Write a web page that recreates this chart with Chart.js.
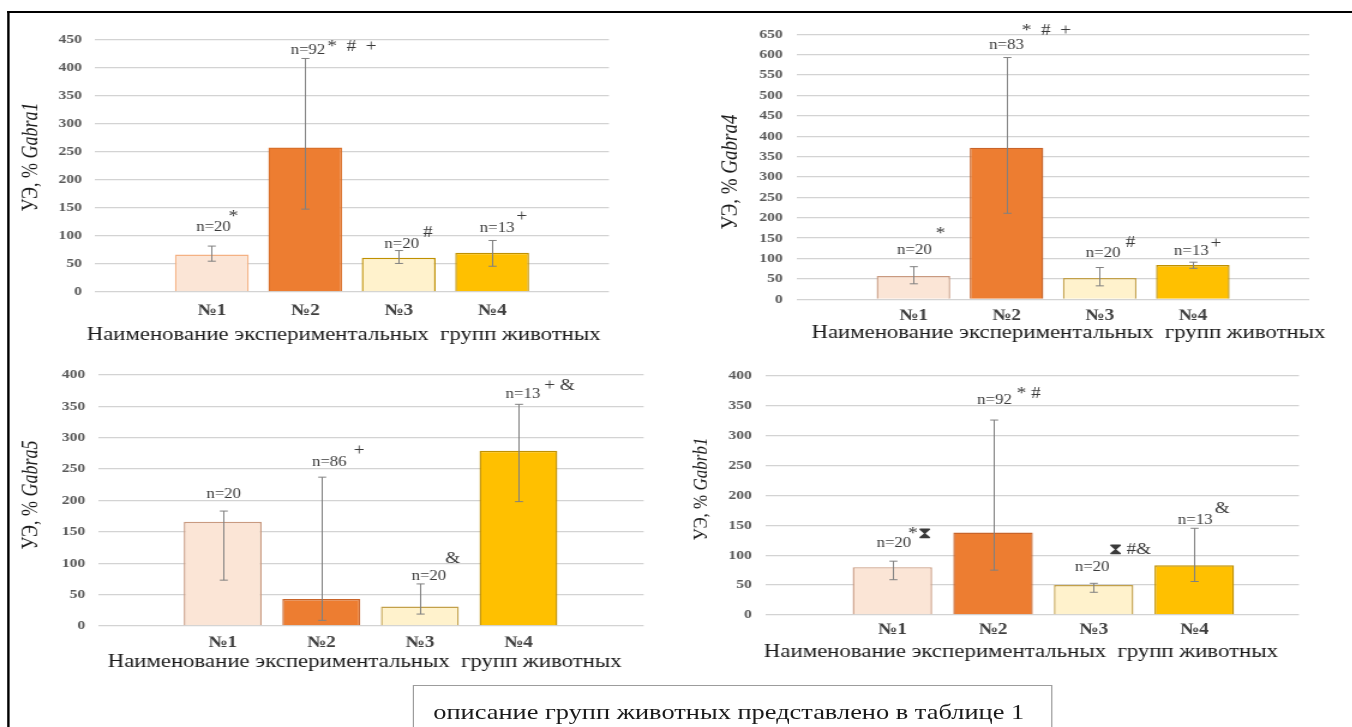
<!DOCTYPE html>
<html>
<head>
<meta charset="utf-8">
<script src="https://cdn.jsdelivr.net/npm/chart.js@4.4.1/dist/chart.umd.min.js"></script>
<style>
  html, body { margin: 0; padding: 0; background: #fff; overflow: hidden; width: 1352px; height: 727px; }
  /* the figure is laid out narrow and widened horizontally as one piece */
  #fig { position: absolute; left: 0; top: 0; width: 1127px; height: 727px; transform: scaleX(1.2); transform-origin: 0 0; }
  #fig canvas { position: absolute; }
  #frame { position: absolute; left: 5.8px; top: 11px; width: 1300px; height: 800px;
           border-top: 2px solid #000; border-left: 2px solid #000; }
  #note { position: absolute; left: 344px; top: 685px; width: 533px; height: 60px; box-sizing: border-box;
          border: 1.4px solid #9c9c9c; padding: 14px 0 0 16px; white-space: nowrap;
          font: 22px/24px "Liberation Serif", "Times New Roman", serif; color: #1a1a1a; }
</style>
</head>
<body>
<div id="fig">
  <div id="frame"></div>
  <canvas id="c1"></canvas>
  <canvas id="c2"></canvas>
  <canvas id="c3"></canvas>
  <canvas id="c4"></canvas>
  <div id="note">описание групп животных представлено в таблице 1</div>
</div>
<script>
// ---- data ----
const groups = ['№1', '№2', '№3', '№4'];

// Gabra1
const gabra1Mean = [67, 258, 61, 70];
const gabra1Low  = [55, 148, 51, 46];
const gabra1High = [82, 417, 74, 92];
const gabra1N    = [20, 92, 20, 13];
const gabra1Sig  = ['*', '*  #  +', '#', '+'];

// Gabra4
const gabra4Mean = [57, 372, 52, 84];
const gabra4Low  = [38, 211, 33, 76];
const gabra4High = [80, 593, 78, 91];
const gabra4N    = [20, 83, 20, 13];
const gabra4Sig  = ['*', '*  #  +', '#', '+'];

// Gabra5
const gabra5Mean = [166, 43, 31, 279];
const gabra5Low  = [73, 9, 19, 198];
const gabra5High = [183, 237, 67, 353];
const gabra5N    = [20, 86, 20, 13];
const gabra5Sig  = ['', '+', '&', '+ &'];

// Gabrb1
const gabrb1Mean = [80, 138, 50, 83];
const gabrb1Low  = [59, 75, 38, 56];
const gabrb1High = [90, 326, 53, 145];
const gabrb1N    = [20, 92, 20, 13];
const gabrb1Sig  = ['*⧗', '* #', '⧗ #&', '&'];

const yTop = { gabra1: 450, gabra4: 650, gabra5: 400, gabrb1: 400 };
const yStep = 50;

// ---- styling ----
const S = 1.2;                       // horizontal widening of the whole figure
const FONT = '"Liberation Serif", "Times New Roman", serif';
const fills = ['#FBE5D6', '#ED7D31', '#FFF2CC', '#FFC000'];
const edgesA = ['#F4B183', '#D9702A', '#BF9000', '#BF9000'];
const edgesB = ['#C99A80', '#C8642A', '#C2A04A', '#BF9000'];
const xTitleText = 'Наименование экспериментальных  групп животных';

Chart.defaults.font.family = FONT;

function panel(id, d, f) {
  const cv = document.getElementById(id);
  const w = Math.round(f.W / S), h = f.H;
  cv.width = w; cv.height = h;
  cv.style.width = w + 'px'; cv.style.height = h + 'px';
  cv.style.left = (f.L / S) + 'px'; cv.style.top = f.T + 'px';
  const yAxisW = (f.left - f.L) / S;
  const xAxisH = f.T + f.H - f.bottom;
  const padRight = w - (f.right - f.L) / S;

  const overlay = {
    id: 'overlay',
    afterDatasetsDraw(chart) {
      const ctx = chart.ctx, xs = chart.scales.x, ys = chart.scales.y;
      const bars = chart.getDatasetMeta(0).data;
      ctx.save();
      // error bars
      ctx.strokeStyle = '#808080';
      ctx.lineWidth = 1;
      const cap = 4 / S;
      d.mean.forEach((m, i) => {
        const x = Math.round(bars[i].x) + 0.5;
        const y1 = ys.getPixelForValue(d.high[i]);
        const y2 = ys.getPixelForValue(d.low[i]);
        ctx.beginPath();
        ctx.moveTo(x, y1); ctx.lineTo(x, y2);
        ctx.moveTo(x - cap, y1); ctx.lineTo(x + cap, y1);
        ctx.moveTo(x - cap, y2); ctx.lineTo(x + cap, y2);
        ctx.stroke();
      });
      // group sizes and significance marks
      ctx.fillStyle = '#3a3a3a';
      ctx.textBaseline = 'middle';
      d.n.forEach((n, i) => {
        const lay = f.labels[i];
        const cx = xs.getPixelForValue(i + 1) + lay.dx / S;
        const cy = ys.getPixelForValue(lay.y);
        const t = 'n=' + n;
        ctx.font = '14px ' + FONT;
        ctx.textAlign = 'center';
        ctx.fillText(t, cx, cy);
        const right = cx + ctx.measureText(t).width / 2;
        if (d.sig[i]) {
          ctx.font = '16px ' + FONT;
          ctx.textAlign = 'left';
          ctx.fillText(d.sig[i], right + lay.gap / S, cy - lay.raise);
        }
      });
      // axis titles
      ctx.fillStyle = '#1a1a1a';
      ctx.font = '19px ' + FONT;
      ctx.textAlign = 'center';
      ctx.fillText(xTitleText, (f.xTitle.x - f.L) / S, f.xTitle.y - f.T);

      ctx.translate((f.yTitle.x - f.L) / S, f.yTitle.y - f.T);
      ctx.rotate(-Math.PI / 2);
      const a = 'УЭ, % ';
      const fs = f.yTitle.size;
      ctx.font = fs + 'px ' + FONT;
      const wa = ctx.measureText(a).width;
      ctx.font = 'italic ' + fs + 'px ' + FONT;
      const wb = ctx.measureText(d.gene).width;
      const x0 = -(wa + wb) / 2;
      ctx.textAlign = 'left';
      ctx.font = fs + 'px ' + FONT;
      ctx.fillText(a, x0, 0);
      ctx.font = 'italic ' + fs + 'px ' + FONT;
      ctx.fillText(d.gene, x0 + wa, 0);
      ctx.restore();
    }
  };

  return new Chart(cv, {
    type: 'bar',
    data: {
      datasets: [{
        data: d.mean.map((v, i) => ({ x: i + 1, y: v })),
        backgroundColor: fills,
        borderColor: d.edges,
        borderWidth: 1.4,
        categoryPercentage: 1,
        barPercentage: 0.79
      }]
    },
    options: {
      responsive: false,
      animation: false,
      devicePixelRatio: 1,
      layout: { padding: { top: f.top - f.T, right: padRight, bottom: 0, left: 0 } },
      plugins: { legend: { display: false }, tooltip: { enabled: false } },
      scales: {
        x: {
          type: 'linear',
          bounds: 'data',
          offset: false,
          min: f.xMin, max: f.xMax,
          afterBuildTicks: s => { s.ticks = groups.map((g, i) => ({ value: i + 1 })); },
          afterFit: s => { s.height = xAxisH; },
          grid: { display: false, offset: false, drawTicks: false },
          border: { display: false },
          ticks: {
            callback: v => groups[v - 1] || '',
            autoSkip: false, maxRotation: 0,
            padding: f.xPad,
            color: '#3f3f3f',
            font: { size: 16, weight: 'bold' }
          }
        },
        y: {
          min: 0, max: d.max,
          afterFit: s => { s.width = yAxisW; },
          grid: { color: '#d3d3d3', lineWidth: 1.3, drawTicks: false },
          border: { display: false },
          ticks: {
            stepSize: yStep,
            padding: f.yPad,
            color: '#595959',
            font: { size: 13, weight: 'bold' }
          }
        }
      }
    },
    plugins: [overlay]
  });
}

panel('c1',
  { mean: gabra1Mean, low: gabra1Low, high: gabra1High, n: gabra1N, sig: gabra1Sig, gene: 'Gabra1', max: yTop.gabra1, edges: edgesA },
  { L: 10, T: 14, W: 650, H: 340, left: 95.4, right: 609.3, top: 40, bottom: 292,
    xMin: -0.25, xMax: 5.25, xPad: 8.9, yPad: 11,
    yTitle: { x: 32, y: 157, size: 18 }, xTitle: { x: 344, y: 335 },
    labels: [ { dx: 1.6, y: 116, gap: -2, raise: 10 }, { dx: 2.7, y: 432, gap: 2, raise: 3 },
              { dx: 3, y: 85.7, gap: 4, raise: 11 }, { dx: 5, y: 114, gap: 2, raise: 11 } ] });

panel('c2',
  { mean: gabra4Mean, low: gabra4Low, high: gabra4High, n: gabra4N, sig: gabra4Sig, gene: 'Gabra4', max: yTop.gabra4, edges: edgesB },
  { L: 680, T: 14, W: 670, H: 340, left: 796.6, right: 1308.8, top: 34.3, bottom: 299.3,
    xMin: -0.25, xMax: 5.25, xPad: 6.6, yPad: 12,
    yTitle: { x: 730, y: 172, size: 19 }, xTitle: { x: 1068, y: 333 },
    labels: [ { dx: 1, y: 119, gap: 4, raise: 17 }, { dx: 0, y: 624, gap: -2, raise: 14 },
              { dx: 3.5, y: 113.6, gap: 5, raise: 10 }, { dx: -1.5, y: 118.5, gap: 2, raise: 7 } ] });

panel('c3',
  { mean: gabra5Mean, low: gabra5Low, high: gabra5High, n: gabra5N, sig: gabra5Sig, gene: 'Gabra5', max: yTop.gabra5, edges: edgesB },
  { L: 10, T: 356, W: 660, H: 324, left: 98.9, right: 644, top: 370, bottom: 626,
    xMin: -0.26, xMax: 5.27, xPad: 6.9, yPad: 11,
    yTitle: { x: 32.5, y: 495, size: 18 }, xTitle: { x: 365, y: 662 },
    labels: [ { dx: 1, y: 209.8, gap: 0, raise: 0 }, { dx: 8, y: 260.5, gap: 7, raise: 12 },
              { dx: 9, y: 79.7, gap: -1, raise: 17 }, { dx: 4.5, y: 368.75, gap: 4, raise: 9 } ] });

panel('c4',
  { mean: gabrb1Mean, low: gabrb1Low, high: gabrb1High, n: gabrb1N, sig: gabrb1Sig, gene: 'Gabrb1', max: yTop.gabrb1, edges: edgesB },
  { L: 680, T: 356, W: 670, H: 324, left: 765.7, right: 1298.5, top: 374, bottom: 615,
    xMin: -0.255, xMax: 5.04, xPad: 4.9, yPad: 12,
    yTitle: { x: 701.4, y: 489, size: 17 }, xTitle: { x: 1020.5, y: 652 },
    labels: [ { dx: 1.5, y: 120, gap: -3, raise: 9 }, { dx: 1.5, y: 358.5, gap: 5, raise: 7 },
              { dx: -1.5, y: 80, gap: -1, raise: 17 }, { dx: 1, y: 159, gap: 2, raise: 11 } ] });
</script>
</body>
</html>
